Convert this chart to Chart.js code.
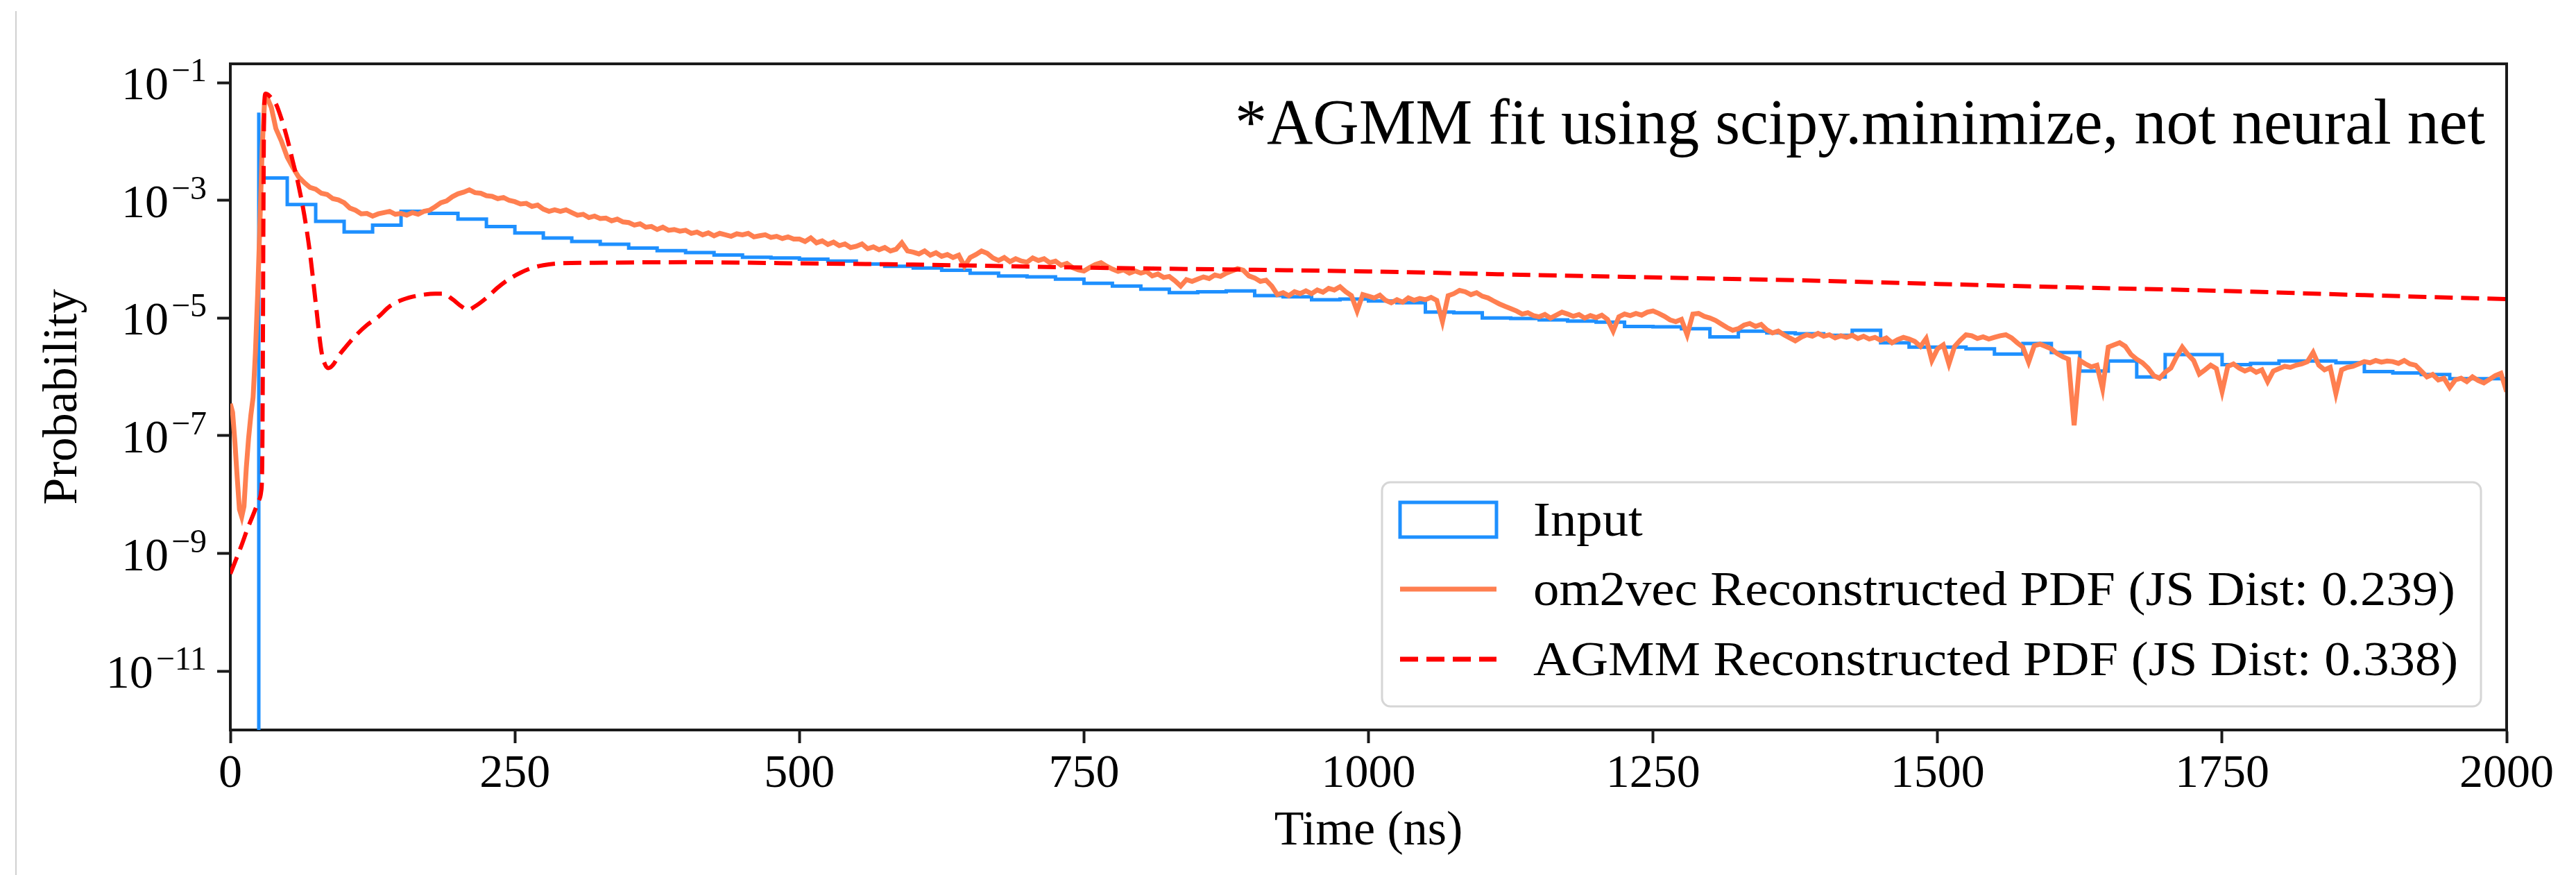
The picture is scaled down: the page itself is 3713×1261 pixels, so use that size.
<!DOCTYPE html>
<html>
<head>
<meta charset="utf-8">
<script src="https://cdn.jsdelivr.net/npm/chart.js@4.4.1/dist/chart.umd.min.js"></script>
<style>
  html, body { margin: 0; padding: 0; background: #fff; }
  canvas { display: block; }
</style>
</head>
<body>
<canvas id="pdfChart" width="3713" height="1261"></canvas>
<script>
// --- Data ---
const xTickValues = [0, 250, 500, 750, 1000, 1250, 1500, 1750, 2000];
const yTickExps = [-1, -3, -5, -7, -9, -11];
const yFloor = 1e-12;        // bottom of the log axis (empty bins sit here)
const yCeil = 0.209;

// Input histogram: 25 ns bins starting at 25 ns (bin 0-25 is empty)
const histFirstEdge = 25;
const histBinWidth = 25;
const inputHist = [
  0.031, 2.4e-3, 8.5e-4, 4.4e-4, 2.9e-4, 3.8e-4, 6.5e-4, 6.0e-4, 4.8e-4, 3.6e-4,
  2.8e-4, 2.3e-4, 2.0e-4, 1.8e-4, 1.55e-4, 1.4e-4, 1.3e-4, 1.18e-4, 1.08e-4, 1.05e-4,
  1.0e-4, 9.3e-5, 8.3e-5, 7.6e-5, 7.1e-5, 6.5e-5, 5.8e-5, 5.2e-5, 5.0e-5, 4.6e-5,
  3.9e-5, 3.5e-5, 3.1e-5, 2.7e-5, 2.8e-5, 2.9e-5, 2.4e-5, 2.3e-5, 2.05e-5, 2.1e-5,
  1.95e-5, 1.82e-5, 1.26e-5, 1.23e-5, 1.0e-5, 9.8e-6, 9.3e-6, 8.9e-6, 8.5e-6, 7.2e-6,
  7.1e-6, 6.6e-6, 4.8e-6, 6.0e-6, 5.6e-6, 5.4e-6, 5.1e-6, 6.2e-6, 3.8e-6, 3.2e-6,
  3.2e-6, 3.0e-6, 2.45e-6, 3.7e-6, 2.6e-6, 1.26e-6, 1.86e-6, 1.0e-6, 2.4e-6, 2.4e-6,
  1.62e-6, 1.7e-6, 1.86e-6, 1.86e-6, 1.74e-6, 1.23e-6, 1.17e-6, 1.1e-6, 9.3e-7
];

// om2vec reconstruction: irregular samples up to 45 ns, then every 5 ns from 50 ns
const omEarlyTimes = [0, 2, 4, 6, 8, 10, 12, 14, 16, 18, 20, 22, 24, 26, 28, 30, 31, 33, 36, 40, 45];
const omEarlyValues = [
  3.5e-7, 2.5e-7, 7.9e-8, 2.0e-8, 5.6e-9, 4.2e-9, 6.3e-9, 2.8e-8, 8.9e-8, 2.2e-7,
  4.5e-7, 2.5e-6, 2.5e-5, 4.0e-4, 7.9e-3, 4.5e-2, 5.5e-2, 5.2e-2, 3.8e-2, 1.66e-2, 1.0e-2
];
const omGridStart = 50;
const omGridStep = 5;
const omGridValues = [
  5.4e-3, 3.6e-3, 2.5e-3, 2.0e-3, 1.66e-3, 1.55e-3, 1.32e-3, 1.26e-3, 1.07e-3, 1.02e-3,     // 50
  9.1e-4, 7.4e-4, 6.8e-4, 5.9e-4, 6.0e-4, 5.4e-4, 5.9e-4, 6.2e-4, 6.5e-4, 5.8e-4,           // 100
  6.0e-4, 5.6e-4, 6.2e-4, 5.8e-4, 6.5e-4, 6.8e-4, 7.8e-4, 9.1e-4, 9.8e-4, 1.15e-3,          // 150
  1.29e-3, 1.38e-3, 1.51e-3, 1.35e-3, 1.32e-3, 1.20e-3, 1.17e-3, 1.07e-3, 1.12e-3, 1.0e-3,  // 200
  9.5e-4, 8.7e-4, 8.9e-4, 7.9e-4, 8.3e-4, 7.1e-4, 6.5e-4, 6.9e-4, 6.5e-4, 6.9e-4,           // 250
  6.2e-4, 5.6e-4, 5.8e-4, 5.1e-4, 5.4e-4, 4.9e-4, 5.0e-4, 4.5e-4, 4.8e-4, 4.3e-4,           // 300
  4.2e-4, 3.8e-4, 4.0e-4, 3.5e-4, 3.6e-4, 3.2e-4, 3.5e-4, 3.1e-4, 3.2e-4, 3.0e-4,           // 350
  3.1e-4, 2.75e-4, 2.9e-4, 2.6e-4, 2.8e-4, 2.5e-4, 2.75e-4, 2.6e-4, 2.45e-4, 2.7e-4,        // 400
  2.6e-4, 2.75e-4, 2.4e-4, 2.5e-4, 2.6e-4, 2.35e-4, 2.45e-4, 2.25e-4, 2.4e-4, 2.2e-4,       // 450
  2.2e-4, 2.0e-4, 2.3e-4, 1.9e-4, 2.05e-4, 1.78e-4, 1.95e-4, 1.7e-4, 1.82e-4, 1.58e-4,      // 500
  1.66e-4, 1.82e-4, 1.51e-4, 1.62e-4, 1.45e-4, 1.58e-4, 1.38e-4, 1.48e-4, 1.9e-4, 1.38e-4,  // 550
  1.32e-4, 1.23e-4, 1.38e-4, 1.17e-4, 1.29e-4, 1.12e-4, 1.2e-4, 1.07e-4, 1.17e-4, 7.6e-5,   // 600
  1.07e-4, 1.2e-4, 1.38e-4, 1.26e-4, 1.05e-4, 9.5e-5, 1.07e-4, 9.1e-5, 1.02e-4, 9.3e-5,     // 650
  8.9e-5, 1.05e-4, 9.5e-5, 1.02e-4, 8.7e-5, 9.3e-5, 7.9e-5, 8.5e-5, 7.2e-5, 6.6e-5,         // 700
  6.3e-5, 7.2e-5, 8.1e-5, 8.7e-5, 7.6e-5, 6.8e-5, 6.2e-5, 6.6e-5, 5.8e-5, 6.3e-5,           // 750
  5.8e-5, 6.2e-5, 5.2e-5, 5.6e-5, 4.9e-5, 5.1e-5, 4.3e-5, 3.5e-5, 4.5e-5, 4.2e-5,           // 800
  4.6e-5, 5.0e-5, 4.7e-5, 5.4e-5, 5.1e-5, 5.8e-5, 6.3e-5, 6.9e-5, 6.5e-5, 5.2e-5,           // 850
  4.8e-5, 4.2e-5, 4.4e-5, 3.5e-5, 2.5e-5, 2.7e-5, 2.4e-5, 2.8e-5, 2.6e-5, 2.9e-5,           // 900
  2.6e-5, 3.0e-5, 2.75e-5, 3.2e-5, 3.0e-5, 3.4e-5, 2.8e-5, 2.4e-5, 1.32e-5, 2.5e-5,         // 950
  2.35e-5, 2.2e-5, 2.45e-5, 2.0e-5, 1.82e-5, 2.05e-5, 1.86e-5, 2.2e-5, 2.0e-5, 2.15e-5,     // 1000
  2.05e-5, 2.25e-5, 2.0e-5, 8.7e-6, 2.4e-5, 2.6e-5, 2.95e-5, 2.8e-5, 2.5e-5, 2.7e-5,        // 1050
  2.35e-5, 2.2e-5, 1.95e-5, 1.74e-5, 1.58e-5, 1.45e-5, 1.32e-5, 1.17e-5, 1.23e-5, 1.1e-5,   // 1100
  1.05e-5, 1.15e-5, 1.0e-5, 1.12e-5, 1.26e-5, 1.17e-5, 1.07e-5, 1.15e-5, 1.0e-5, 1.1e-5,    // 1150
  1.02e-5, 1.12e-5, 9.5e-6, 6.0e-6, 1.05e-5, 1.17e-5, 1.1e-5, 1.2e-5, 1.12e-5, 1.26e-5,     // 1200
  1.32e-5, 1.2e-5, 1.07e-5, 9.3e-6, 8.7e-6, 9.5e-6, 5.2e-6, 1.17e-5, 1.2e-5, 1.07e-5,       // 1250
  1.0e-5, 9.1e-6, 7.9e-6, 6.9e-6, 6.2e-6, 6.6e-6, 7.6e-6, 8.1e-6, 7.2e-6, 7.8e-6,           // 1300
  6.3e-6, 5.6e-6, 6.0e-6, 5.2e-6, 4.6e-6, 4.1e-6, 4.7e-6, 5.2e-6, 4.9e-6, 5.5e-6,           // 1350
  4.9e-6, 5.2e-6, 4.6e-6, 5.0e-6, 4.7e-6, 5.1e-6, 4.5e-6, 4.9e-6, 4.4e-6, 4.7e-6,           // 1400
  4.2e-6, 4.6e-6, 3.8e-6, 4.3e-6, 4.7e-6, 4.4e-6, 4.0e-6, 3.3e-6, 4.5e-6, 1.9e-6,           // 1450
  3.0e-6, 3.5e-6, 1.66e-6, 3.3e-6, 4.2e-6, 5.2e-6, 5.0e-6, 4.5e-6, 4.8e-6, 4.4e-6,          // 1500
  4.7e-6, 5.0e-6, 5.2e-6, 4.6e-6, 3.8e-6, 3.2e-6, 1.78e-6, 3.4e-6, 3.6e-6, 3.3e-6,          // 1550
  3.0e-6, 2.5e-6, 2.2e-6, 2.0e-6, 1.5e-7, 1.9e-6, 1.66e-6, 1.48e-6, 1.58e-6, 6.3e-7,        // 1600
  3.2e-6, 3.5e-6, 3.8e-6, 3.3e-6, 2.4e-6, 2.0e-6, 1.74e-6, 1.41e-6, 1.05e-6, 9.5e-7,        // 1650
  1.2e-6, 1.41e-6, 2.2e-6, 3.2e-6, 2.4e-6, 1.9e-6, 1.12e-6, 1.32e-6, 1.58e-6, 1.38e-6,      // 1700
  5.6e-7, 1.51e-6, 1.66e-6, 1.41e-6, 1.26e-6, 1.38e-6, 1.2e-6, 1.32e-6, 8.3e-7, 1.26e-6,    // 1750
  1.38e-6, 1.51e-6, 1.45e-6, 1.58e-6, 1.66e-6, 1.82e-6, 2.6e-6, 1.58e-6, 1.32e-6, 1.45e-6,  // 1800
  5.2e-7, 1.32e-6, 1.45e-6, 1.51e-6, 1.66e-6, 1.82e-6, 1.74e-6, 1.9e-6, 1.78e-6, 1.86e-6,   // 1850
  1.82e-6, 1.7e-6, 1.9e-6, 1.66e-6, 1.58e-6, 1.26e-6, 1.0e-6, 1.1e-6, 8.9e-7, 9.5e-7,       // 1900
  6.6e-7, 8.9e-7, 9.5e-7, 8.3e-7, 1.0e-6, 8.7e-7, 7.9e-7, 9.1e-7, 1.05e-6, 1.15e-6,         // 1950
  5.6e-7                                                                                     // 2000
];

// AGMM fit (smooth)
const agmmTimes = [
  0, 5, 10, 15, 20, 25, 27, 28, 28.5, 29, 29.5, 30, 31, 33, 36, 40, 45, 50, 55, 60,
  65, 70, 75, 80, 83, 86, 90, 96, 100, 110, 120, 130, 140, 150, 160, 170, 180, 187, 195, 203,
  209, 215, 225, 235, 245, 255, 265, 275, 290, 320, 400, 500, 600, 750, 900, 1000, 1125, 1250, 1375, 1500,
  1625, 1750, 1875, 2000
];
const agmmValues = [
  4.5e-10, 7.9e-10, 1.4e-9, 2.6e-9, 4.5e-9, 7.9e-9, 1.1e-8, 3.2e-8, 1.0e-6, 3.2e-4,
  1.6e-2, 5.0e-2, 6.5e-2, 6.3e-2, 5.5e-2, 4.4e-2, 2.4e-2, 1.12e-2, 4.5e-3, 1.78e-3,
  5.6e-4, 1.26e-4, 1.82e-5, 2.75e-6, 1.66e-6, 1.41e-6, 1.58e-6, 2.4e-6, 3.0e-6, 5.0e-6,
  7.6e-6, 1.05e-5, 1.58e-5, 2.0e-5, 2.3e-5, 2.5e-5, 2.6e-5, 2.6e-5, 2.1e-5, 1.58e-5,
  1.38e-5, 1.58e-5, 2.2e-5, 3.3e-5, 4.6e-5, 5.9e-5, 7.1e-5, 7.9e-5, 8.5e-5, 8.7e-5,
  8.9e-5, 8.5e-5, 8.1e-5, 7.2e-5, 6.6e-5, 6.2e-5, 5.5e-5, 4.9e-5, 4.4e-5, 3.8e-5,
  3.3e-5, 2.9e-5, 2.45e-5, 2.1e-5
];

const legendLabels = [
  "Input",
  "om2vec Reconstructed PDF (JS Dist: 0.239)",
  "AGMM Reconstructed PDF (JS Dist: 0.338)"
];
const noteText = "*AGMM fit using scipy.minimize, not neural net";

// --- Build point lists ---
const histPoints = [{ x: histFirstEdge, y: yFloor }];
inputHist.forEach((v, i) => histPoints.push({ x: histFirstEdge + i * histBinWidth, y: v }));
histPoints.push({ x: histFirstEdge + inputHist.length * histBinWidth, y: inputHist[inputHist.length - 1] });

const omPoints = omEarlyTimes.map((t, i) => ({ x: t, y: omEarlyValues[i] }));
omGridValues.forEach((v, i) => omPoints.push({ x: omGridStart + i * omGridStep, y: v }));

const agmmPoints = agmmTimes.map((t, i) => ({ x: t, y: agmmValues[i] }));

// --- Styles ---
const SERIF = '"Liberation Serif", "DejaVu Serif", serif';
const BLUE = "#1e90ff";
const ORANGE = "#ff7f50";
const RED = "#ff0000";
const FRAME = "#1a1a1a";

function stretchText(ctx, text, x, y, font, align, sx) {
  ctx.save();
  ctx.font = font;
  ctx.translate(x, y);
  ctx.scale(sx, 1);
  ctx.textAlign = align;
  ctx.textBaseline = "alphabetic";
  ctx.fillText(text, 0, 0);
  ctx.restore();
}

function roundRectPath(ctx, x, y, w, h, r) {
  ctx.beginPath();
  ctx.moveTo(x + r, y);
  ctx.lineTo(x + w - r, y);
  ctx.arcTo(x + w, y, x + w, y + r, r);
  ctx.lineTo(x + w, y + h - r);
  ctx.arcTo(x + w, y + h, x + w - r, y + h, r);
  ctx.lineTo(x + r, y + h);
  ctx.arcTo(x, y + h, x, y + h - r, r);
  ctx.lineTo(x, y + r);
  ctx.arcTo(x, y, x + r, y, r);
  ctx.closePath();
}

// --- Extra drawing: frame, log tick labels, titles, legend, note ---
const decorPlugin = {
  id: "decor",
  afterDraw(chart) {
    const { ctx, chartArea: a, scales } = chart;
    ctx.save();

    // slide edge line on the far left
    ctx.strokeStyle = "#d0d0d0";
    ctx.lineWidth = 2;
    ctx.beginPath(); ctx.moveTo(23, 16); ctx.lineTo(23, chart.height); ctx.stroke();

    // top and right spines
    ctx.strokeStyle = FRAME;
    ctx.lineWidth = 4;
    ctx.beginPath();
    ctx.moveTo(a.left - 2, a.top);
    ctx.lineTo(a.right, a.top);
    ctx.lineTo(a.right, a.bottom + 2);
    ctx.stroke();

    // y tick labels as 10^-n
    ctx.fillStyle = "#000";
    const labelRight = a.left - 34;
    yTickExps.forEach(e => {
      const y = scales.y.getPixelForValue(Math.pow(10, e));
      const sup = "\u2212" + Math.abs(e);
      ctx.font = `48px ${SERIF}`;
      const sw = ctx.measureText(sup).width;
      ctx.textAlign = "left";
      ctx.textBaseline = "alphabetic";
      ctx.fillText(sup, labelRight - sw, y - 2);
      ctx.font = `68px ${SERIF}`;
      ctx.textAlign = "right";
      ctx.fillText("10", labelRight - sw - 4, y + 24);
    });

    // axis titles
    ctx.font = `70px ${SERIF}`;
    ctx.textAlign = "center";
    ctx.textBaseline = "alphabetic";
    ctx.fillText("Time (ns)", (a.left + a.right) / 2, 1217);
    ctx.save();
    ctx.translate(110, (a.top + a.bottom) / 2);
    ctx.rotate(-Math.PI / 2);
    ctx.fillText("Probability", 0, 0);
    ctx.restore();

    // note in the top right
    ctx.font = `94px ${SERIF}`;
    const noteW = ctx.measureText(noteText).width;
    stretchText(ctx, noteText, 1780, 207, `94px ${SERIF}`, "left", 1802 / noteW);

    // legend
    const lx = 1992, ly = 695, lw = 1584, lh = 323;
    roundRectPath(ctx, lx, ly, lw, lh, 12);
    ctx.fillStyle = "rgba(255,255,255,0.85)";
    ctx.fill();
    ctx.strokeStyle = "#d6d6d6";
    ctx.lineWidth = 3;
    ctx.stroke();

    const hx0 = 2018, hx1 = 2157, tx = 2210;
    const rows = [749, 849, 950];
    // Input: outlined box
    ctx.strokeStyle = BLUE;
    ctx.lineWidth = 5;
    ctx.strokeRect(hx0, rows[0] - 25, hx1 - hx0, 50);
    // om2vec: solid line
    ctx.strokeStyle = ORANGE;
    ctx.lineWidth = 7;
    ctx.beginPath(); ctx.moveTo(hx0, rows[1]); ctx.lineTo(hx1, rows[1]); ctx.stroke();
    // AGMM: dashed line
    ctx.strokeStyle = RED;
    ctx.setLineDash([26, 12]);
    ctx.beginPath(); ctx.moveTo(hx0, rows[2]); ctx.lineTo(hx1, rows[2]); ctx.stroke();
    ctx.setLineDash([]);

    ctx.fillStyle = "#000";
    ctx.font = `70px ${SERIF}`;
    const refW = ctx.measureText(legendLabels[1]).width;
    const sx = 1329 / refW;
    legendLabels.forEach((t, i) => stretchText(ctx, t, tx, rows[i] + 23, `70px ${SERIF}`, "left", sx));

    ctx.restore();
  }
};

// --- Chart.js setup ---
const ctx = document.getElementById("pdfChart").getContext("2d");
const chart = new Chart(ctx, {
  type: "line",
  data: {
    datasets: [
      {
        label: legendLabels[0],
        data: histPoints,
        stepped: "after",
        borderColor: BLUE,
        borderWidth: 5,
        pointRadius: 0,
        fill: false,
        order: 3
      },
      {
        label: legendLabels[1],
        data: omPoints,
        borderColor: ORANGE,
        borderWidth: 7,
        pointRadius: 0,
        tension: 0,
        fill: false,
        order: 2
      },
      {
        label: legendLabels[2],
        data: agmmPoints,
        borderColor: RED,
        borderWidth: 6,
        borderDash: [26, 12],
        pointRadius: 0,
        cubicInterpolationMode: "monotone",
        fill: false,
        order: 1
      }
    ]
  },
  options: {
    responsive: false,
    animation: false,
    devicePixelRatio: 1,
    layout: { padding: { top: 92, right: 100, left: 0, bottom: 0 } },
    plugins: {
      legend: { display: false },
      tooltip: { enabled: false }
    },
    scales: {
      x: {
        type: "linear",
        min: 0,
        max: 2000,
        afterBuildTicks: s => { s.ticks = xTickValues.map(v => ({ value: v })); },
        afterFit: s => { s.height = 209; },
        grid: { drawOnChartArea: false, drawTicks: true, tickLength: 19, tickWidth: 4, tickColor: FRAME },
        border: { display: true, width: 4, color: FRAME },
        ticks: {
          callback: v => String(v),
          color: "#000",
          font: { family: SERIF, size: 68 },
          padding: 4,
          maxRotation: 0,
          autoSkip: false
        }
      },
      y: {
        type: "logarithmic",
        min: yFloor,
        max: yCeil,
        afterBuildTicks: s => { s.ticks = yTickExps.map(e => ({ value: Math.pow(10, e) })); },
        afterFit: s => { s.width = 332; },
        grid: { drawOnChartArea: false, drawTicks: true, tickLength: 19, tickWidth: 4, tickColor: FRAME },
        border: { display: true, width: 4, color: FRAME },
        ticks: { display: false }
      }
    }
  },
  plugins: [decorPlugin]
});
</script>
</body>
</html>
